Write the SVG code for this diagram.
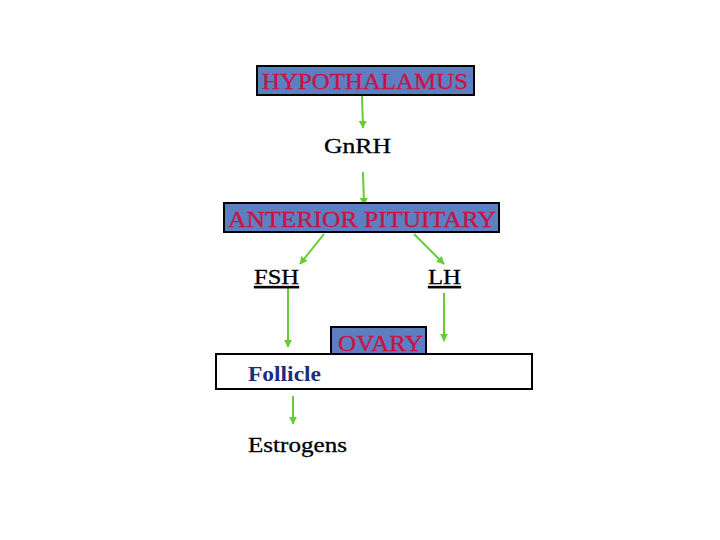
<svg xmlns="http://www.w3.org/2000/svg" width="720" height="540" viewBox="0 0 720 540">
<style>
.box{fill:#5b7fc0;stroke:#000;stroke-width:2}
.lbl{font-family:"Liberation Serif",serif;font-size:23px;fill:#cc1144;stroke:#cc1144;stroke-width:0.3}
.t{font-family:"Liberation Serif",serif;font-size:22px;fill:#000;stroke:#000;stroke-width:0.3}
.c{stroke:#66cc33;stroke-width:2;fill:none;marker-end:url(#ah)}
</style>
<defs>
<marker id="ah" viewBox="0 0 10 10" refX="9" refY="5" markerWidth="4" markerHeight="4" orient="auto" markerUnits="strokeWidth">
<path d="M0,0 L10,5 L0,10 z" fill="#66cc33"/>
</marker>
</defs>
<rect width="720" height="540" fill="#fff"/>
<g id="connectors">
<line class="c" x1="362" y1="96" x2="363" y2="128"/>
<line class="c" x1="363" y1="172" x2="364" y2="205"/>
<line class="c" x1="324" y1="234" x2="300" y2="264"/>
<line class="c" x1="414" y1="234" x2="444" y2="264"/>
<line class="c" x1="288" y1="288" x2="288" y2="347"/>
<line class="c" x1="444" y1="293" x2="444" y2="341"/>
<line class="c" x1="293" y1="396" x2="293" y2="424"/>
</g>
<g id="hypothalamus">
<rect class="box" x="257" y="66" width="217" height="29"/>
<text class="lbl" x="262" y="89" textLength="206" lengthAdjust="spacingAndGlyphs">HYPOTHALAMUS</text>
</g>
<g id="gnrh">
<text class="t" x="324" y="153" textLength="67" lengthAdjust="spacingAndGlyphs">GnRH</text>
</g>
<g id="anterior-pituitary">
<rect class="box" x="224" y="203" width="275" height="29"/>
<text class="lbl" x="228" y="227" textLength="268" lengthAdjust="spacingAndGlyphs">ANTERIOR PITUITARY</text>
</g>
<g id="fsh">
<text class="t" x="254" y="284" textLength="45" lengthAdjust="spacingAndGlyphs" text-decoration="underline">FSH</text>
</g>
<g id="lh">
<text class="t" x="428" y="284" textLength="33" lengthAdjust="spacingAndGlyphs" text-decoration="underline">LH</text>
</g>
<g id="ovary">
<rect x="216" y="354" width="316" height="35" fill="#fff" stroke="#000" stroke-width="2"/>
<rect class="box" x="331" y="327" width="95" height="27"/>
<text class="lbl" x="338" y="351" textLength="85" lengthAdjust="spacingAndGlyphs">OVARY</text>
</g>
<g id="follicle">
<text x="248" y="381" font-family="Liberation Serif,serif" font-size="22" font-weight="bold" fill="#1a2f7a" textLength="73" lengthAdjust="spacingAndGlyphs">Follicle</text>
</g>
<g id="estrogens">
<text class="t" x="248" y="452" textLength="99" lengthAdjust="spacingAndGlyphs">Estrogens</text>
</g>
</svg>
